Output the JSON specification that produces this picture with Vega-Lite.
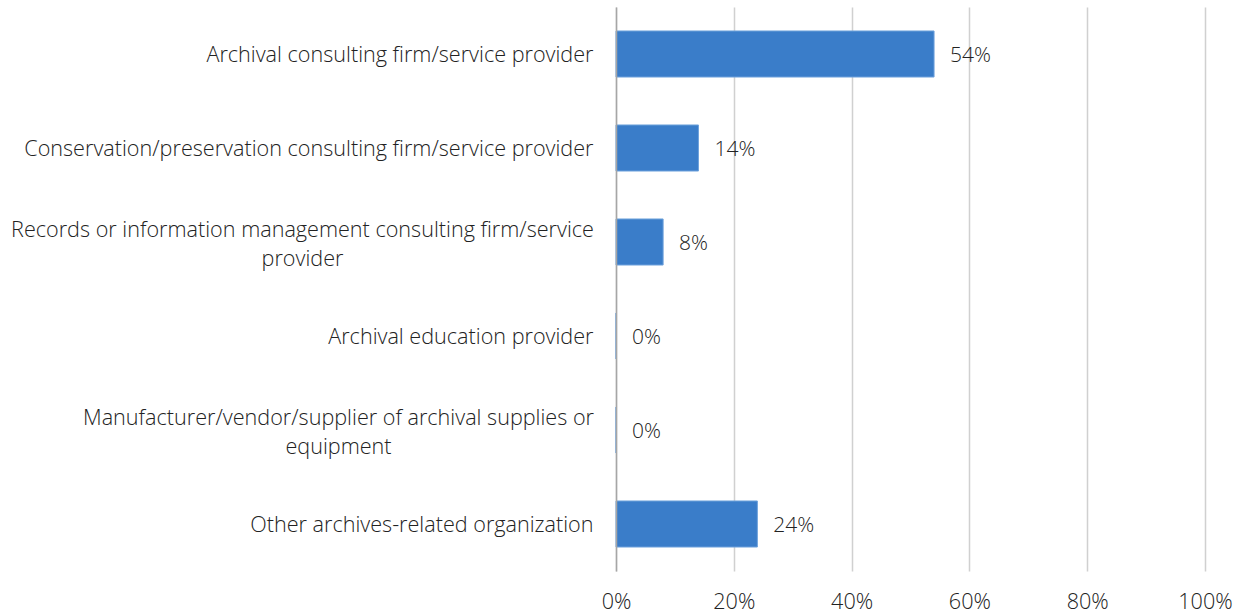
{
  "$schema": "https://vega.github.io/schema/vega-lite/v6.json",
  "autosize": {"type": "none"},
  "padding": {"left": 616, "top": 7, "right": 39, "bottom": 45},
  "width": 589,
  "height": 564,
  "background": "white",
  "config": {
    "view": {"stroke": null},
    "font": "Open Sans"
  },
  "data": {
    "values": [
      {"category": "Archival consulting firm/service provider", "value": 0.54},
      {"category": "Conservation/preservation consulting firm/service provider", "value": 0.14},
      {"category": "Records or information management consulting firm/service provider", "value": 0.08},
      {"category": "Archival education provider", "value": 0.0},
      {"category": "Manufacturer/vendor/supplier of archival supplies or equipment", "value": 0.0},
      {"category": "Other archives-related organization", "value": 0.24}
    ]
  },
  "encoding": {
    "y": {
      "field": "category",
      "type": "nominal",
      "sort": null,
      "scale": {"paddingInner": 0.51, "paddingOuter": 0.255},
      "axis": {
        "title": null,
        "ticks": false,
        "domain": true,
        "zindex": 1,
        "domainColor": "#a6a6a6",
        "domainWidth": 1.5,
        "labelFont": "Open Sans",
        "labelFontWeight": 300,
        "labelFontSize": 21.6,
        "labelColor": "#222222",
        "labelLineHeight": 28.5,
        "labelLimit": 800,
        "labelAlign": {"condition": {"test": "indexof(datum.value, 'Records') == 0 || indexof(datum.value, 'Manufacturer') == 0", "value": "center"}, "value": "right"},
        "labelPadding": {"condition": [
          {"test": "indexof(datum.value, 'Records') == 0", "value": 314},
          {"test": "indexof(datum.value, 'Manufacturer') == 0", "value": 278}
        ], "value": 23},
        "labelOffset": {"condition": {"test": "indexof(datum.value, 'Records') == 0 || indexof(datum.value, 'Manufacturer') == 0", "value": -11}, "value": 1.5},
        "labelExpr": "datum.value == 'Records or information management consulting firm/service provider' ? ['Records or information management consulting firm/service', 'provider'] : datum.value == 'Manufacturer/vendor/supplier of archival supplies or equipment' ? ['Manufacturer/vendor/supplier of archival supplies or', 'equipment'] : datum.value"
      }
    }
  },
  "layer": [
    {
      "mark": {"type": "bar", "color": "#3a7dc9", "stroke": "#6fa3dc", "strokeWidth": 1},
      "encoding": {
        "x": {
          "field": "value",
          "type": "quantitative",
          "scale": {"domain": [0, 1], "nice": false},
          "axis": {
            "title": null,
            "format": ".0%",
            "values": [0, 0.2, 0.4, 0.6, 0.8, 1],
            "domain": false,
            "ticks": false,
            "grid": true,
            "gridColor": "#d0d0d0",
            "gridWidth": 1.5,
            "labelFont": "Open Sans",
            "labelFontWeight": 300,
            "labelFontSize": 21.6,
            "labelColor": "#222222",
            "labelPadding": 20,
            "labelFlush": false
          }
        }
      }
    },
    {
      "mark": {"type": "text", "align": "left", "baseline": "middle", "dx": 16, "dy": 2, "font": "Open Sans", "fontWeight": 300, "fontSize": 21, "color": "#222222"},
      "encoding": {
        "x": {"field": "value", "type": "quantitative"},
        "text": {"field": "value", "type": "quantitative", "format": ".0%"}
      }
    }
  ]
}
